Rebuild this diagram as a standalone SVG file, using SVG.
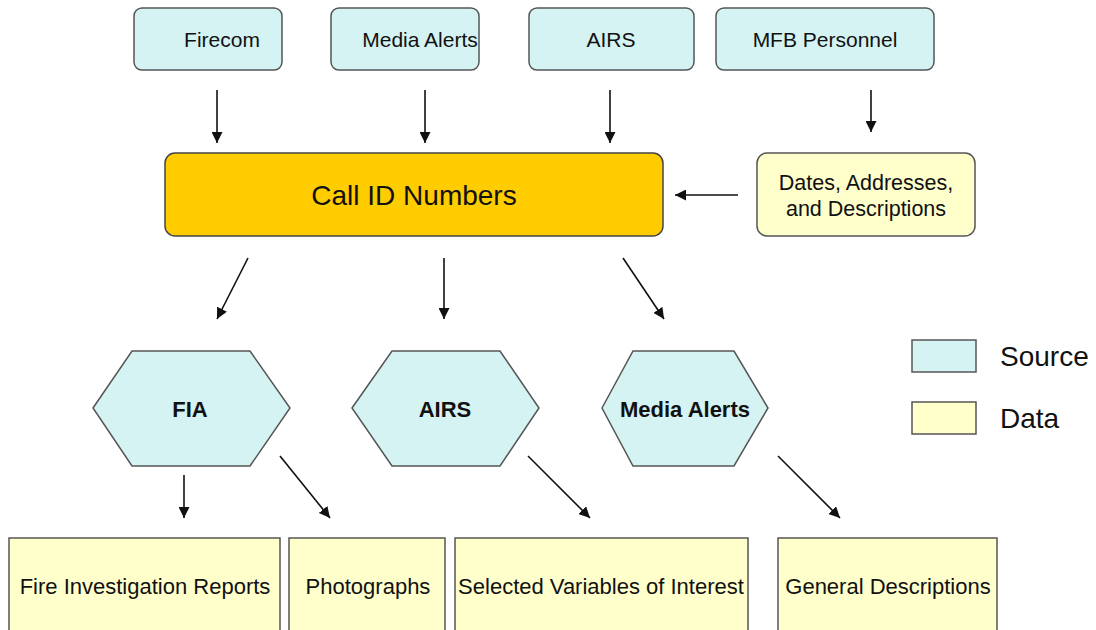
<svg xmlns="http://www.w3.org/2000/svg" width="1096" height="630" viewBox="0 0 1096 630">
<style>
.src{fill:#d5f3f3;stroke:#555;stroke-width:1.5}
.dat{fill:#ffffcc;stroke:#555;stroke-width:1.5}
.t{font-family:"Liberation Sans",Arial,sans-serif;fill:#111;text-anchor:middle;dominant-baseline:central}
.c line{stroke:#111;stroke-width:1.6;marker-end:url(#ah)}
</style>
<defs>
<marker id="ah" viewBox="0 0 10 10" refX="10" refY="5" markerWidth="11" markerHeight="11" markerUnits="userSpaceOnUse" orient="auto">
<path d="M0,0 L10,5 L0,10 Z" fill="#111"/>
</marker>
</defs>
<rect width="1096" height="630" fill="#fff"/>
<g id="firecom"><rect class="src" x="134" y="8" width="148" height="62" rx="8"/><text class="t" x="222" y="39" font-size="21">Firecom</text></g>
<g id="media-alerts-src"><rect class="src" x="331" y="8" width="148" height="62" rx="8"/><text class="t" x="420" y="39" font-size="21">Media Alerts</text></g>
<g id="airs-src"><rect class="src" x="529" y="8" width="165" height="62" rx="8"/><text class="t" x="611" y="39" font-size="21">AIRS</text></g>
<g id="mfb"><rect class="src" x="716" y="8" width="218" height="62" rx="8"/><text class="t" x="825" y="39" font-size="21">MFB Personnel</text></g>
<g id="callid"><rect x="165" y="153" width="498" height="83" rx="10" fill="#ffcc00" stroke="#444" stroke-width="1.5"/><text class="t" x="414" y="195" font-size="28">Call ID Numbers</text></g>
<g id="dates"><rect class="dat" x="757" y="153" width="218" height="83" rx="10"/><text class="t" x="866" y="183" font-size="21.5">Dates, Addresses,</text><text class="t" x="866" y="209" font-size="21.5">and Descriptions</text></g>
<g id="fia"><polygon class="src" points="93,408 132,351 250,351 290,408 250,466 132,466"/><text class="t" x="190" y="409" font-size="22" font-weight="bold">FIA</text></g>
<g id="airs-hex"><polygon class="src" points="352,408 392,351 500,351 539,408 500,466 392,466"/><text class="t" x="445" y="409" font-size="22" font-weight="bold">AIRS</text></g>
<g id="media-hex"><polygon class="src" points="602,408 633,351 734,351 768,408 734,466 633,466"/><text class="t" x="685" y="409" font-size="22" font-weight="bold">Media Alerts</text></g>
<g id="fir"><rect class="dat" x="9" y="538" width="271" height="100"/><text class="t" x="145" y="586" font-size="22">Fire Investigation Reports</text></g>
<g id="photos"><rect class="dat" x="289" y="538" width="156" height="100"/><text class="t" x="368" y="586" font-size="22">Photographs</text></g>
<g id="svi"><rect class="dat" x="455" y="538" width="293" height="100"/><text class="t" x="601" y="586" font-size="22">Selected Variables of Interest</text></g>
<g id="gd"><rect class="dat" x="778" y="538" width="219" height="100"/><text class="t" x="888" y="586" font-size="22">General Descriptions</text></g>
<g id="legend">
<rect class="src" x="912" y="340" width="64" height="32"/><text class="t" x="1000" y="356" font-size="28" style="text-anchor:start">Source</text>
<rect class="dat" x="912" y="402" width="64" height="32"/><text class="t" x="1000" y="418" font-size="28" style="text-anchor:start">Data</text>
</g>
<g class="c" id="connectors">
<line x1="217" y1="90" x2="217" y2="143"/>
<line x1="425" y1="90" x2="425" y2="143"/>
<line x1="610" y1="90" x2="610" y2="143"/>
<line x1="871" y1="90" x2="871" y2="132"/>
<line x1="738" y1="195" x2="675" y2="195"/>
<line x1="248" y1="258" x2="217" y2="319"/>
<line x1="444" y1="258" x2="444" y2="319"/>
<line x1="623" y1="258" x2="664" y2="319"/>
<line x1="184" y1="475" x2="184" y2="518"/>
<line x1="280" y1="456" x2="330" y2="518"/>
<line x1="528" y1="456" x2="590" y2="518"/>
<line x1="778" y1="456" x2="840" y2="518"/>
</g>
</svg>
